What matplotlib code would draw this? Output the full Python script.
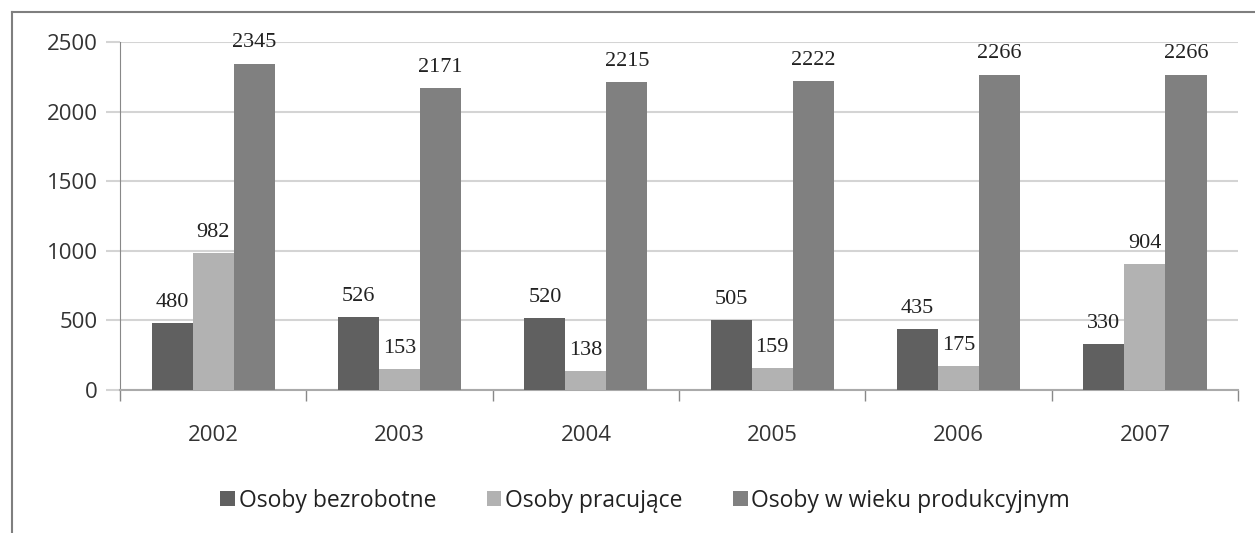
import numpy as np
import matplotlib.pyplot as plt
from matplotlib.lines import Line2D

years = ['2002', '2003', '2004', '2005', '2006', '2007']
bezrobotne = [480, 526, 520, 505, 435, 330]
pracujace = [982, 153, 138, 159, 175, 904]
produkcyjny = [2345, 2171, 2215, 2222, 2266, 2266]
series_names = ['Osoby bezrobotne', 'Osoby pracujące', 'Osoby w wieku produkcyjnym']

plt.rcParams['font.family'] = ['Open Sans', 'DejaVu Sans']

fig = plt.figure(figsize=(12.55, 5.33), dpi=100)
ax = fig.add_axes([0.0956, 0.2683, 0.891, 0.6529])

colors = ['#606060', '#b2b2b2', '#808080']
bw = 0.22
x = np.arange(len(years))
for i, (vals, c, name) in enumerate(zip([bezrobotne, pracujace, produkcyjny], colors, series_names)):
    pos = x + (i - 1) * bw
    ax.bar(pos, vals, width=bw, color=c, label=name, zorder=3)
    for p, v in zip(pos, vals):
        ax.annotate(str(v), (p, v), xytext=(0, 8), textcoords='offset points',
                    ha='center', va='bottom', fontsize=16, color='#222222',
                    family=['Liberation Serif', 'DejaVu Serif'])

ax.set_xlim(-0.5, len(years) - 0.5)
ax.set_ylim(0, 2500)
ax.set_yticks([0, 500, 1000, 1500, 2000, 2500])
ax.yaxis.grid(True, color='#d4d4d4', linewidth=1.5, zorder=0)
ax.set_xticks(x)
ax.set_xticklabels(years)
ax.set_xticks(np.arange(-0.5, len(years)), minor=True)
ax.tick_params(axis='x', which='major', length=0, pad=25, labelsize=16, labelcolor='#333333')
ax.tick_params(axis='x', which='minor', length=8, color='#888888', width=1)
ax.tick_params(axis='y', length=10, color='#d4d4d4', width=1.5, pad=6, labelsize=16, labelcolor='#333333')

for s in ['top', 'right']:
    ax.spines[s].set_visible(False)
ax.spines['left'].set_color('#888888')
ax.spines['bottom'].set_color('#aaaaaa')
ax.spines['bottom'].set_linewidth(1.5)

ax.legend(loc='center', bbox_to_anchor=(0.4696, -0.318), ncol=3, frameon=False,
          fontsize=16.5, handlelength=0.65, handleheight=0.65, handletextpad=0.15,
          columnspacing=2.2, labelcolor='#222222')

# outer border (only left and top visible)
fig.add_artist(Line2D([12 / 1255, 12 / 1255], [0, 1 - 12 / 533], transform=fig.transFigure,
                      color='#7f7f7f', linewidth=1.5))
fig.add_artist(Line2D([12 / 1255, 1], [1 - 12 / 533, 1 - 12 / 533], transform=fig.transFigure,
                      color='#7f7f7f', linewidth=1.5))

fig.savefig('out.png', dpi=100)
